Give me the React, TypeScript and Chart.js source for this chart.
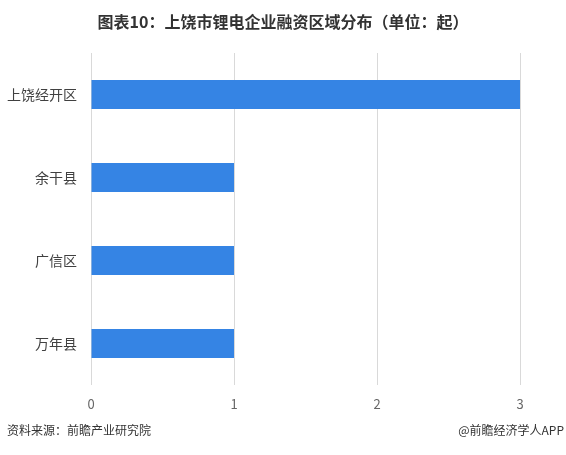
import React, { useEffect, useRef } from "react";
import { Chart, registerables } from "chart.js";

Chart.register(...registerables);

const TITLE = "图表10：上饶市锂电企业融资区域分布（单位：起）";
const SOURCE = "资料来源：前瞻产业研究院";
const CREDIT = "@前瞻经济学人APP";
const categories = ["上饶经开区", "余干县", "广信区", "万年县"];
const values = [3, 1, 1, 1];
const xTicks = [0, 1, 2, 3];

const FONT = "'Noto Sans CJK SC', 'Noto Sans', sans-serif";

const textPlugin = {
  id: "textPlugin",
  afterDraw(chart: any) {
    const ctx = chart.ctx;
    ctx.save();
    ctx.fillStyle = "#333333";
    ctx.font = `bold 16px ${FONT}`;
    ctx.textAlign = "center";
    ctx.textBaseline = "middle";
    ctx.fillText(TITLE, 283, 22);
    ctx.font = `12px ${FONT}`;
    ctx.textAlign = "left";
    ctx.fillText(SOURCE, 7, 430);
    ctx.textAlign = "right";
    ctx.fillText(CREDIT, 564, 430);
    ctx.restore();
  },
};

export default function App() {
  const ref = useRef<HTMLCanvasElement | null>(null);
  useEffect(() => {
    if (!ref.current) return;
    const chart = new Chart(ref.current, {
      type: "bar",
      data: {
        labels: categories,
        datasets: [
          {
            data: values,
            backgroundColor: "#3584e4",
            borderWidth: 0,
            categoryPercentage: 1,
            barPercentage: 0.35,
          },
        ],
      },
      options: {
        indexAxis: "y",
        responsive: false,
        animation: false,
        devicePixelRatio: 1,
        layout: { padding: { top: 53, right: 46, bottom: 45, left: 0 } },
        plugins: {
          legend: { display: false },
          title: { display: false },
          tooltip: { enabled: false },
        },
        scales: {
          x: {
            min: 0,
            max: 3,
            afterBuildTicks: (scale: any) => {
              scale.ticks = xTicks.map((v) => ({ value: v }));
            },
            afterFit: (scale: any) => {
              scale.height = 25;
            },
            grid: { color: "#d9d9d9", drawTicks: false, lineWidth: 1 },
            border: { display: false },
            ticks: {
              padding: 11,
              color: "#666666",
              font: { family: FONT, size: 13 },
            },
          },
          y: {
            afterFit: (scale: any) => {
              scale.width = 91;
            },
            grid: { display: false, drawTicks: false },
            border: { display: false },
            ticks: {
              padding: 14,
              color: "#404040",
              font: { family: FONT, size: 14 },
            },
          },
        },
      },
      plugins: [textPlugin],
    });
    return () => chart.destroy();
  }, []);
  return (
    <div style={{ position: "absolute", left: 0, top: 0, width: 566, height: 455, background: "#fff" }}>
      <canvas ref={ref} width={566} height={455} />
    </div>
  );
}
